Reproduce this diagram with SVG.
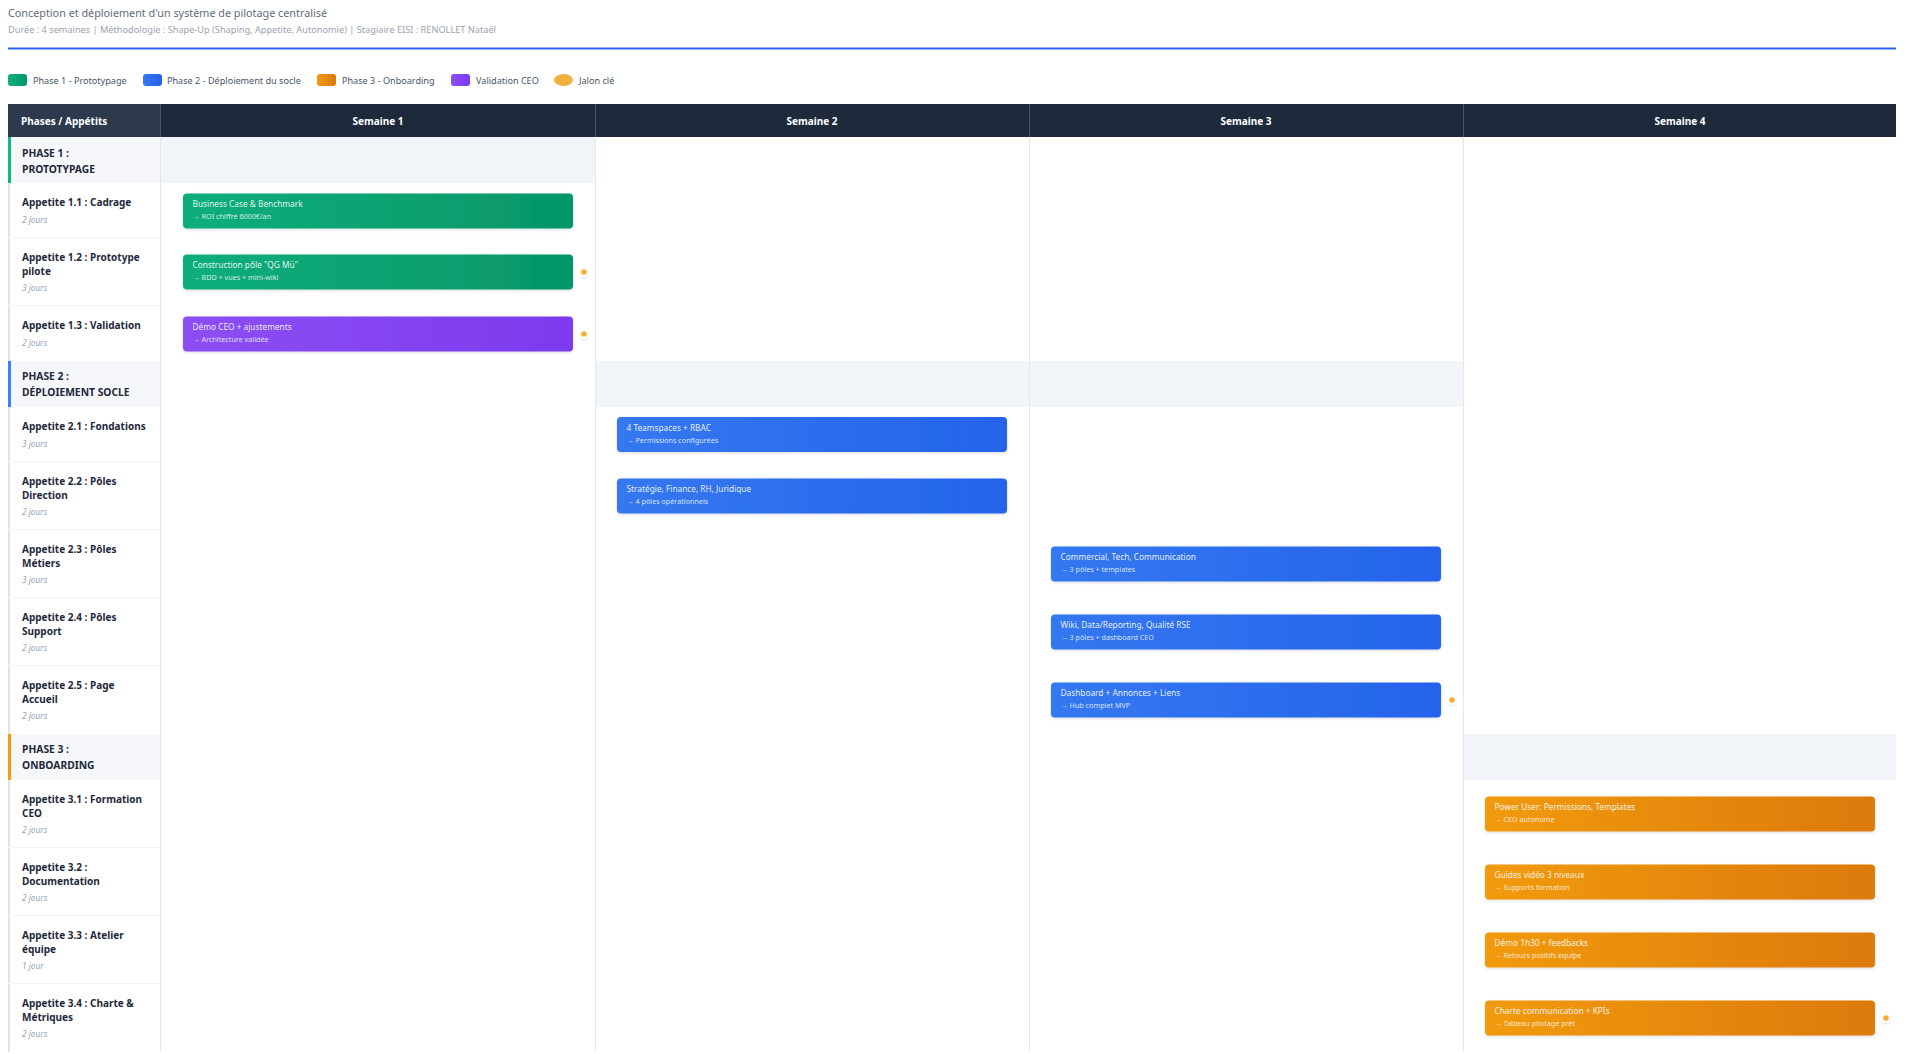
<svg xmlns="http://www.w3.org/2000/svg" width="1920" height="1054" viewBox="0 0 1920 1054">
<defs>
<style>
text{font-family:"Noto Sans","Open Sans","Liberation Sans",sans-serif}
.title{font-size:10.8px;fill:#5f6b7a}
.sub{font-size:9.2px;fill:#9aa3af}
.leg{font-size:9.1px;fill:#475569}
.hd{font-size:10px;font-weight:700;fill:#ffffff}
.ph{font-size:10.3px;font-weight:700;fill:#1e293b}
.ap{font-size:10px;font-weight:700;fill:#1e293b}
.jr{font-size:8.3px;font-style:italic;fill:#94a3b8}
.bt{font-size:8.3px;fill:#ffffff;fill-opacity:0.9}
.bs{font-size:7.2px;fill:#ffffff;fill-opacity:0.8}
.band{fill:#f1f4f8}
.lcell{fill:#f5f7fa}
.sep{stroke:#f2f4f7;stroke-width:1}
.div{stroke:#e5e8ec;stroke-width:1}
.dot{fill:#f6ae2d;stroke:#ffffff;stroke-width:2}
</style>
<linearGradient id="gG" x1="0" y1="0" x2="1" y2="0"><stop offset="0" stop-color="#10ae7c"/><stop offset="1" stop-color="#059669"/></linearGradient>
<linearGradient id="gB" x1="0" y1="0" x2="1" y2="0"><stop offset="0" stop-color="#3478f0"/><stop offset="1" stop-color="#2563eb"/></linearGradient>
<linearGradient id="gO" x1="0" y1="0" x2="1" y2="0"><stop offset="0" stop-color="#f29a10"/><stop offset="1" stop-color="#db7a07"/></linearGradient>
<linearGradient id="gP" x1="0" y1="0" x2="1" y2="0"><stop offset="0" stop-color="#8b4ff3"/><stop offset="1" stop-color="#7c3aed"/></linearGradient>
<filter id="sh" x="-5%" y="-30%" width="110%" height="170%"><feDropShadow dx="0" dy="1" stdDeviation="1.5" flood-color="#0f172a" flood-opacity="0.15"/></filter>
</defs>
<rect width="1920" height="1054" fill="#ffffff"/>

<g id="header">
<text class="title" x="8" y="16.5">Conception et déploiement d'un système de pilotage centralisé</text>
<text class="sub" x="8" y="32.5">Durée : 4 semaines | Méthodologie : Shape-Up (Shaping, Appetite, Autonomie) | Stagiaire EISI : RENOLLET Nataël</text>
<rect x="8" y="47.5" width="1888" height="2" fill="#2563eb"/>
</g>

<g id="legend">
<rect x="8" y="74" width="19" height="12" rx="3" fill="url(#gG)"/><text class="leg" x="33" y="83.5">Phase 1 - Prototypage</text>
<rect x="143" y="74" width="19" height="12" rx="3" fill="url(#gB)"/><text class="leg" x="167" y="83.5">Phase 2 - Déploiement du socle</text>
<rect x="317" y="74" width="19" height="12" rx="3" fill="url(#gO)"/><text class="leg" x="342" y="83.5">Phase 3 - Onboarding</text>
<rect x="451" y="74" width="19" height="12" rx="3" fill="url(#gP)"/><text class="leg" x="476" y="83.5">Validation CEO</text>
<ellipse cx="563.5" cy="80" rx="9.5" ry="6" fill="#f3b03b"/><text class="leg" x="579" y="83.5">Jalon clé</text>
</g>

<g id="table-header">
<rect x="8" y="104" width="1888" height="33" fill="#1e293b"/>
<rect x="8" y="104" width="152" height="33" fill="#2d3a4e"/>
<line x1="160.5" y1="104" x2="160.5" y2="137" stroke="#4a5568"/>
<line x1="595.5" y1="104" x2="595.5" y2="137" stroke="#4a5568"/>
<line x1="1029.5" y1="104" x2="1029.5" y2="137" stroke="#4a5568"/>
<line x1="1463.5" y1="104" x2="1463.5" y2="137" stroke="#4a5568"/>
<text class="hd" x="21" y="125">Phases / Appétits</text>
<text class="hd" x="378" y="125" text-anchor="middle">Semaine 1</text>
<text class="hd" x="812" y="125" text-anchor="middle">Semaine 2</text>
<text class="hd" x="1246" y="125" text-anchor="middle">Semaine 3</text>
<text class="hd" x="1680" y="125" text-anchor="middle">Semaine 4</text>
</g>

<g id="bands">
<rect class="band" x="160" y="137" width="435" height="46"/>
<rect class="band" x="595" y="361" width="868" height="46"/>
<rect class="band" x="1463" y="734" width="433" height="46"/>
</g>

<g id="grid">
<line class="div" x1="595.5" y1="137" x2="595.5" y2="1052"/>
<line class="div" x1="1029.5" y1="137" x2="1029.5" y2="1052"/>
<line class="div" x1="1463.5" y1="137" x2="1463.5" y2="1052"/>
<line x1="160.5" y1="137" x2="160.5" y2="1052" stroke="#e2e8f0"/>
</g>

<g id="phase-1">
<rect class="lcell" x="8" y="137" width="152" height="46"/>
<rect x="8" y="137" width="3" height="46" fill="#10b981"/>
<text class="ph" x="22" y="156.5">PHASE 1 :</text>
<text class="ph" x="22" y="172.5">PROTOTYPAGE</text>
</g>
<g id="row-1-1">
<rect x="8" y="183" width="2" height="55" fill="#dfe4ea"/>
<line class="sep" x1="8" y1="237.5" x2="160" y2="237.5"/>
<text class="ap" x="22" y="205.5">Appetite 1.1 : Cadrage</text>
<text class="jr" x="22" y="222.5">2 jours</text>
</g>
<g id="row-1-2">
<rect x="8" y="238" width="2" height="68" fill="#dfe4ea"/>
<line class="sep" x1="8" y1="305.5" x2="160" y2="305.5"/>
<text class="ap" x="22" y="260.5">Appetite 1.2 : Prototype</text>
<text class="ap" x="22" y="274.5">pilote</text>
<text class="jr" x="22" y="290.5">3 jours</text>
</g>
<g id="row-1-3">
<rect x="8" y="306" width="2" height="55" fill="#dfe4ea"/>
<text class="ap" x="22" y="328.5">Appetite 1.3 : Validation</text>
<text class="jr" x="22" y="345.5">2 jours</text>
</g>

<g id="phase-2">
<rect class="lcell" x="8" y="361" width="152" height="46"/>
<rect x="8" y="361" width="3" height="46" fill="#3b82f6"/>
<text class="ph" x="22" y="379.5">PHASE 2 :</text>
<text class="ph" x="22" y="395.5">DÉPLOIEMENT SOCLE</text>
</g>
<g id="row-2-1">
<rect x="8" y="407" width="2" height="55" fill="#dfe4ea"/>
<line class="sep" x1="8" y1="461.5" x2="160" y2="461.5"/>
<text class="ap" x="22" y="429.5">Appetite 2.1 : Fondations</text>
<text class="jr" x="22" y="446.5">3 jours</text>
</g>
<g id="row-2-2">
<rect x="8" y="462" width="2" height="68" fill="#dfe4ea"/>
<line class="sep" x1="8" y1="529.5" x2="160" y2="529.5"/>
<text class="ap" x="22" y="484.5">Appetite 2.2 : Pôles</text>
<text class="ap" x="22" y="498.5">Direction</text>
<text class="jr" x="22" y="514.5">2 jours</text>
</g>
<g id="row-2-3">
<rect x="8" y="530" width="2" height="68" fill="#dfe4ea"/>
<line class="sep" x1="8" y1="597.5" x2="160" y2="597.5"/>
<text class="ap" x="22" y="552.5">Appetite 2.3 : Pôles</text>
<text class="ap" x="22" y="566.5">Métiers</text>
<text class="jr" x="22" y="582.5">3 jours</text>
</g>
<g id="row-2-4">
<rect x="8" y="598" width="2" height="68" fill="#dfe4ea"/>
<line class="sep" x1="8" y1="665.5" x2="160" y2="665.5"/>
<text class="ap" x="22" y="620.5">Appetite 2.4 : Pôles</text>
<text class="ap" x="22" y="634.5">Support</text>
<text class="jr" x="22" y="650.5">2 jours</text>
</g>
<g id="row-2-5">
<rect x="8" y="666" width="2" height="68" fill="#dfe4ea"/>
<text class="ap" x="22" y="688.5">Appetite 2.5 : Page</text>
<text class="ap" x="22" y="702.5">Accueil</text>
<text class="jr" x="22" y="718.5">2 jours</text>
</g>

<g id="phase-3">
<rect class="lcell" x="8" y="734" width="152" height="46"/>
<rect x="8" y="734" width="3" height="46" fill="#f59e0b"/>
<text class="ph" x="22" y="752.5">PHASE 3 :</text>
<text class="ph" x="22" y="768.5">ONBOARDING</text>
</g>
<g id="row-3-1">
<rect x="8" y="780" width="2" height="68" fill="#dfe4ea"/>
<line class="sep" x1="8" y1="847.5" x2="160" y2="847.5"/>
<text class="ap" x="22" y="802.5">Appetite 3.1 : Formation</text>
<text class="ap" x="22" y="816.5">CEO</text>
<text class="jr" x="22" y="832.5">2 jours</text>
</g>
<g id="row-3-2">
<rect x="8" y="848" width="2" height="68" fill="#dfe4ea"/>
<line class="sep" x1="8" y1="915.5" x2="160" y2="915.5"/>
<text class="ap" x="22" y="870.5">Appetite 3.2 :</text>
<text class="ap" x="22" y="884.5">Documentation</text>
<text class="jr" x="22" y="900.5">2 jours</text>
</g>
<g id="row-3-3">
<rect x="8" y="916" width="2" height="68" fill="#dfe4ea"/>
<line class="sep" x1="8" y1="983.5" x2="160" y2="983.5"/>
<text class="ap" x="22" y="938.5">Appetite 3.3 : Atelier</text>
<text class="ap" x="22" y="952.5">équipe</text>
<text class="jr" x="22" y="968.5">1 jour</text>
</g>
<g id="row-3-4">
<rect x="8" y="984" width="2" height="68" fill="#dfe4ea"/>
<text class="ap" x="22" y="1006.5">Appetite 3.4 : Charte &amp;</text>
<text class="ap" x="22" y="1020.5">Métriques</text>
<text class="jr" x="22" y="1036.5">2 jours</text>
</g>

<g id="connectors"></g>

<g id="bar-1-1" transform="translate(183,193.5)">
<rect width="390" height="35" rx="4" fill="url(#gG)" filter="url(#sh)"/>
<text class="bt" x="9.5" y="13.5">Business Case &amp; Benchmark</text>
<text class="bs" x="9.5" y="25.5">→ ROI chiffré 6000€/an</text>
</g>
<g id="bar-1-2" transform="translate(183,254.5)">
<rect width="390" height="35" rx="4" fill="url(#gG)" filter="url(#sh)"/>
<text class="bt" x="9.5" y="13.5">Construction pôle "QG Mü"</text>
<text class="bs" x="9.5" y="25.5">→ BDD + vues + mini-wiki</text>
</g>
<g id="bar-1-3" transform="translate(183,316.5)">
<rect width="390" height="35" rx="4" fill="url(#gP)" filter="url(#sh)"/>
<text class="bt" x="9.5" y="13.5">Démo CEO + ajustements</text>
<text class="bs" x="9.5" y="25.5">→ Architecture validée</text>
</g>
<g id="bar-2-1" transform="translate(617,417)">
<rect width="390" height="35" rx="4" fill="url(#gB)" filter="url(#sh)"/>
<text class="bt" x="9.5" y="13.5">4 Teamspaces + RBAC</text>
<text class="bs" x="9.5" y="25.5">→ Permissions configurées</text>
</g>
<g id="bar-2-2" transform="translate(617,478.5)">
<rect width="390" height="35" rx="4" fill="url(#gB)" filter="url(#sh)"/>
<text class="bt" x="9.5" y="13.5">Stratégie, Finance, RH, Juridique</text>
<text class="bs" x="9.5" y="25.5">→ 4 pôles opérationnels</text>
</g>
<g id="bar-2-3" transform="translate(1051,546.5)">
<rect width="390" height="35" rx="4" fill="url(#gB)" filter="url(#sh)"/>
<text class="bt" x="9.5" y="13.5">Commercial, Tech, Communication</text>
<text class="bs" x="9.5" y="25.5">→ 3 pôles + templates</text>
</g>
<g id="bar-2-4" transform="translate(1051,614.5)">
<rect width="390" height="35" rx="4" fill="url(#gB)" filter="url(#sh)"/>
<text class="bt" x="9.5" y="13.5">Wiki, Data/Reporting, Qualité RSE</text>
<text class="bs" x="9.5" y="25.5">→ 3 pôles + dashboard CEO</text>
</g>
<g id="bar-2-5" transform="translate(1051,682.5)">
<rect width="390" height="35" rx="4" fill="url(#gB)" filter="url(#sh)"/>
<text class="bt" x="9.5" y="13.5">Dashboard + Annonces + Liens</text>
<text class="bs" x="9.5" y="25.5">→ Hub complet MVP</text>
</g>
<g id="bar-3-1" transform="translate(1485,796.5)">
<rect width="390" height="35" rx="4" fill="url(#gO)" filter="url(#sh)"/>
<text class="bt" x="9.5" y="13.5">Power User: Permissions, Templates</text>
<text class="bs" x="9.5" y="25.5">→ CEO autonome</text>
</g>
<g id="bar-3-2" transform="translate(1485,864.5)">
<rect width="390" height="35" rx="4" fill="url(#gO)" filter="url(#sh)"/>
<text class="bt" x="9.5" y="13.5">Guides vidéo 3 niveaux</text>
<text class="bs" x="9.5" y="25.5">→ Supports formation</text>
</g>
<g id="bar-3-3" transform="translate(1485,932.5)">
<rect width="390" height="35" rx="4" fill="url(#gO)" filter="url(#sh)"/>
<text class="bt" x="9.5" y="13.5">Démo 1h30 + feedbacks</text>
<text class="bs" x="9.5" y="25.5">→ Retours positifs équipe</text>
</g>
<g id="bar-3-4" transform="translate(1485,1000.5)">
<rect width="390" height="35" rx="4" fill="url(#gO)" filter="url(#sh)"/>
<text class="bt" x="9.5" y="13.5">Charte communication + KPIs</text>
<text class="bs" x="9.5" y="25.5">→ Tableau pilotage prêt</text>
</g>

<g id="milestones">
<circle class="dot" cx="584" cy="272" r="3.8" filter="url(#sh)"/>
<circle class="dot" cx="584" cy="334" r="3.8" filter="url(#sh)"/>
<circle class="dot" cx="1452" cy="700" r="3.8" filter="url(#sh)"/>
<circle class="dot" cx="1886" cy="1018" r="3.8" filter="url(#sh)"/>
</g>
</svg>
